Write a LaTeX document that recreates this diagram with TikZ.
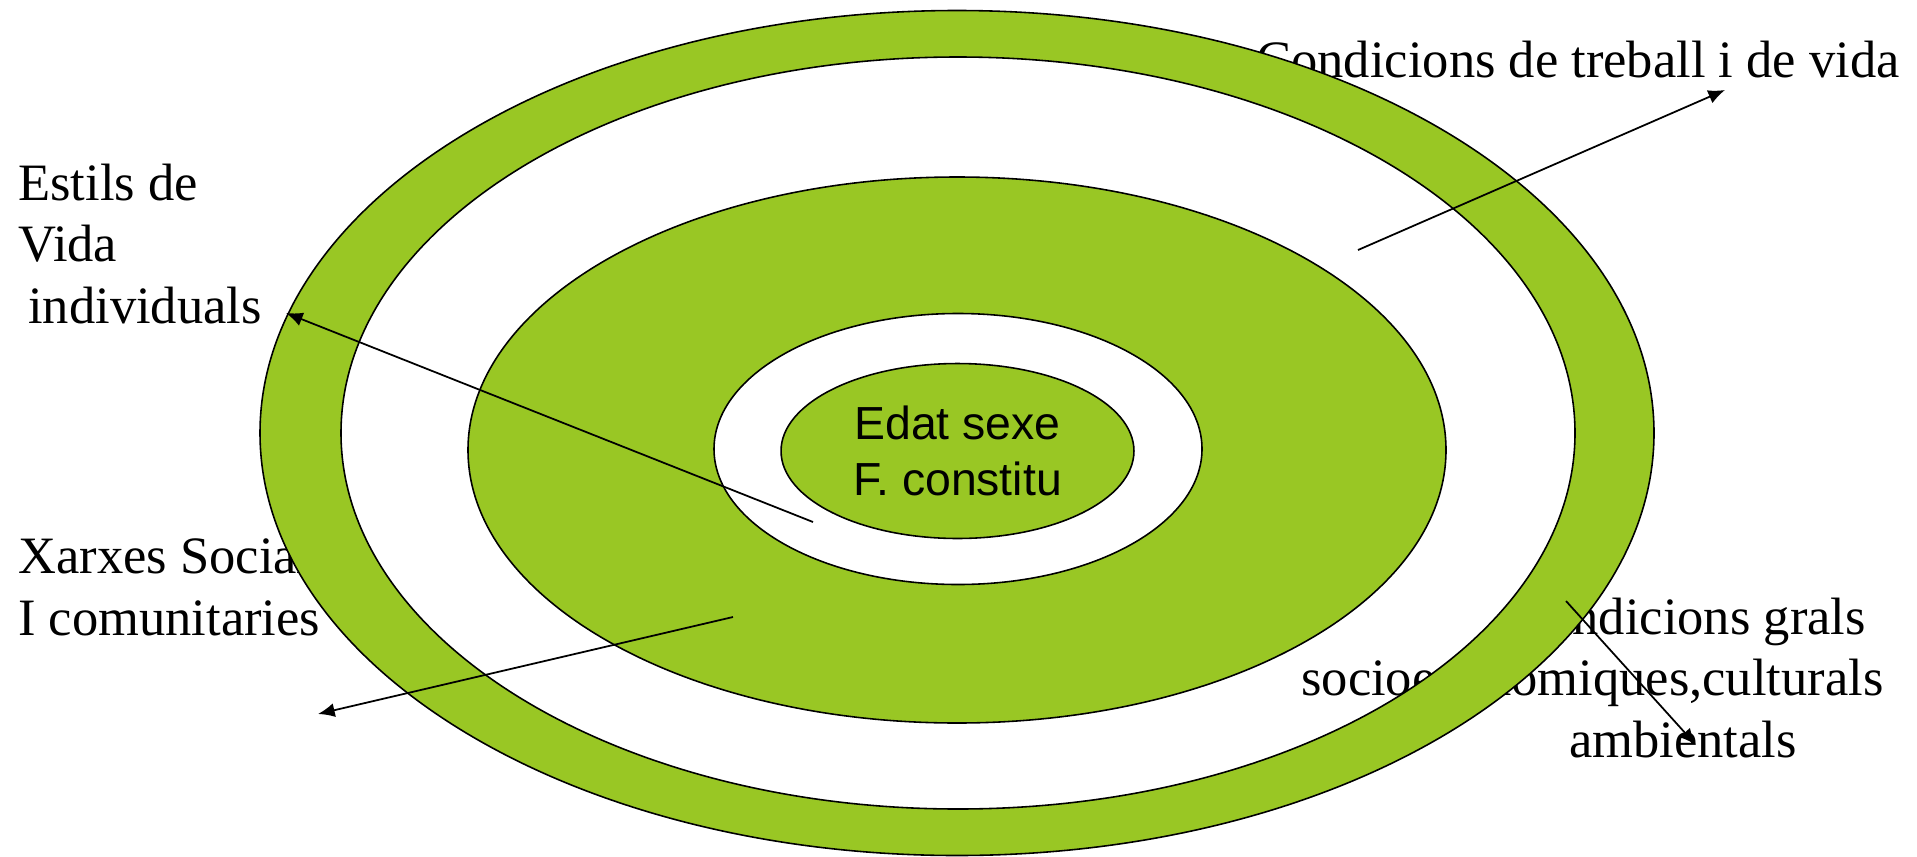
\documentclass[tikz,border=0pt]{standalone}
\usepackage{fontspec}
\setmainfont{Liberation Serif}
\setsansfont{Liberation Sans}
\usetikzlibrary{shapes.geometric, arrows.meta}

\definecolor{ringgreen}{RGB}{153,199,36}

\begin{document}
\begin{tikzpicture}[
    x=0.02cm, y=-0.02cm,
    >={Latex[length=9.5pt, width=8pt]},
    % Styles
    band/.style={draw, fill=ringgreen, even odd rule, line width=0.9pt},
    factor/.style={inner sep=0pt, anchor=base west, align=left, font=\fontsize{29.9}{35}\selectfont},
    core/.style={draw, ellipse, inner sep=0pt, fill=ringgreen, line width=0.9pt, align=center, font=\sffamily\fontsize{26.4}{32.3}\selectfont},
    pointer/.style={->, line width=1pt}
]
\useasboundingbox (0,0) rectangle (1917,856);

% 1. Labels (behind the rings)
\node[factor] (treball) at (1256,77) {Condicions de treball i de vida};
\node[factor] (estils) at (18,323) {Estils de\\Vida\\\hspace*{0.2cm}individuals};
\node[factor] (xarxes) at (18,635) {Xarxes Socials\\I comunitaries};
\node[factor] (grals) at (1301,757) {\hspace*{4.2cm}Condicions grals\\socioeconomiques,culturals\\\hspace*{5.36cm}ambientals};

% 2. Rings, from outside in
\path[band] (957,433) ellipse [x radius=697, y radius=422.5]
            (958,433) ellipse [x radius=617, y radius=376];
\path[band] (957,450) ellipse [x radius=489, y radius=273]
            (958,449) ellipse [x radius=244, y radius=135.5];
\node[core, minimum width=7.06cm, minimum height=3.5cm] (inner) at (957.5,451) {Edat sexe\\F. constitu};

% 3. Pointers
\coordinate (treballTail) at (1358,250);
\coordinate (treballTip) at (1725,90);
\coordinate (estilsTail) at (813,522);
\coordinate (estilsTip) at (286,313);
\coordinate (xarxesTail) at (733,617);
\coordinate (xarxesTip) at (318,714);
\coordinate (gralsTail) at (1566,601);
\coordinate (gralsTip) at (1696,745);

\draw[pointer] (treballTail) -- (treballTip);
\draw[pointer] (estilsTail) -- (estilsTip);
\draw[pointer] (xarxesTail) -- (xarxesTip);
\draw[pointer] (gralsTail) -- (gralsTip);

\end{tikzpicture}
\end{document}
